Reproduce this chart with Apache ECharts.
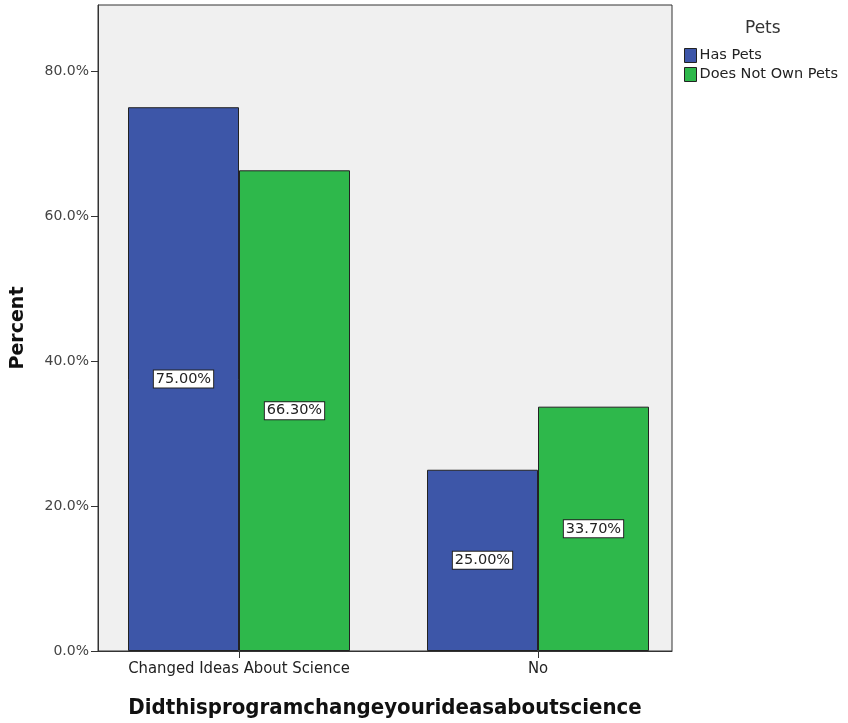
<!DOCTYPE html>
<html>
<head>
<meta charset="utf-8">
<script src="https://cdn.jsdelivr.net/npm/echarts@6/dist/echarts.min.js"></script>
<style>
  html, body { margin: 0; padding: 0; background: #fff; }
  #chart { width: 848px; height: 723px; }
</style>
</head>
<body>
<div id="chart"></div>
<script>
// data
var categories = ['Changed Ideas About Science', 'No'];
var hasPets = [75.0, 25.0];
var noPets = [66.3, 33.7];
var seriesNames = ['Has Pets', 'Does Not Own Pets'];
var yMax = 89.1;

var myChart = echarts.init(document.getElementById('chart'));

var barLabel = {
    show: true,
    position: 'inside',
    formatter: function (p) { return p.value.toFixed(2) + '%'; },
    color: '#222',
    fontFamily: 'DejaVu Sans',
    fontSize: 14.5,
    backgroundColor: '#fff',
    borderColor: '#222',
    borderWidth: 1,
    padding: [2, 2, 0, 2]
};

var option = {
    backgroundColor: '#fff',
    animation: false,
    // grid 0: the framed plot area + y axis; grid 1: bars (SPSS spaces the groups a bit wider)
    grid: [{
        left: 98,
        right: 176,
        top: 5,
        bottom: 72,
        outerBoundsMode: 'none',
        show: true,
        backgroundColor: '#f0f0f0',
        borderColor: '#333',
        borderWidth: 1
    }, {
        left: 89.5,
        right: 160.5,
        top: 5,
        bottom: 72,
        outerBoundsMode: 'none'
    }],
    legend: {
        data: seriesNames,
        orient: 'vertical',
        left: 679,
        top: 43,
        icon: 'rect',
        itemWidth: 12,
        itemHeight: 14,
        itemGap: 4,
        itemStyle: { borderColor: '#222', borderWidth: 1 },
        textStyle: { fontFamily: 'DejaVu Sans', fontSize: 14.5, lineHeight: 14, color: '#222', padding: [0, 0, 0, -2] }
    },
    title: {
        text: 'Pets',
        left: 740,
        top: 15,
        textStyle: { fontFamily: 'DejaVu Sans', fontSize: 17, fontWeight: 'normal', color: '#333' }
    },
    xAxis: [{
        type: 'category',
        gridIndex: 0,
        data: categories,
        name: 'Didthisprogramchangeyourideasaboutscience',
        nameLocation: 'middle',
        nameGap: 46,
        nameTextStyle: { fontFamily: 'DejaVu Sans Condensed, DejaVu Sans', fontWeight: 'bold', fontSize: 22, color: '#111' },
        axisLine: { lineStyle: { color: '#333', width: 1 } },
        axisTick: { show: false },
        axisLabel: { show: false }
    }, {
        type: 'category',
        gridIndex: 1,
        data: categories,
        axisLine: { show: false },
        axisTick: { show: true, alignWithLabel: true, length: 7, lineStyle: { color: '#333', width: 1 } },
        axisLabel: { fontFamily: 'DejaVu Sans Condensed, DejaVu Sans', fontSize: 16.5, color: '#222', margin: 9 }
    }],
    yAxis: [{
        type: 'value',
        gridIndex: 0,
        min: 0,
        max: yMax,
        interval: 20,
        name: 'Percent',
        nameLocation: 'middle',
        nameGap: 70,
        nameTextStyle: { fontFamily: 'DejaVu Sans', fontWeight: 'bold', fontSize: 19, color: '#111' },
        axisLine: { show: true, lineStyle: { color: '#333', width: 1 } },
        axisTick: { show: true, length: 7, lineStyle: { color: '#333' } },
        splitLine: { show: false },
        axisLabel: {
            fontFamily: 'DejaVu Sans',
            fontSize: 14,
            color: '#444',
            margin: 9,
            showMaxLabel: false,
            formatter: function (v) { return v.toFixed(1) + '%'; }
        }
    }, {
        type: 'value',
        gridIndex: 1,
        min: 0,
        max: yMax,
        show: false
    }],
    series: [{
        name: seriesNames[0],
        type: 'bar',
        xAxisIndex: 1,
        yAxisIndex: 1,
        data: hasPets,
        barGap: '0%',
        barWidth: 111,
        itemStyle: { color: '#3d56a8', borderColor: '#222', borderWidth: 1 },
        label: barLabel
    }, {
        name: seriesNames[1],
        type: 'bar',
        xAxisIndex: 1,
        yAxisIndex: 1,
        data: noPets,
        barWidth: 111,
        itemStyle: { color: '#2eb84b', borderColor: '#222', borderWidth: 1 },
        label: barLabel
    }]
};
myChart.setOption(option);

window.addEventListener('resize', function () {
    myChart.resize();
});
</script>
</body>
</html>
